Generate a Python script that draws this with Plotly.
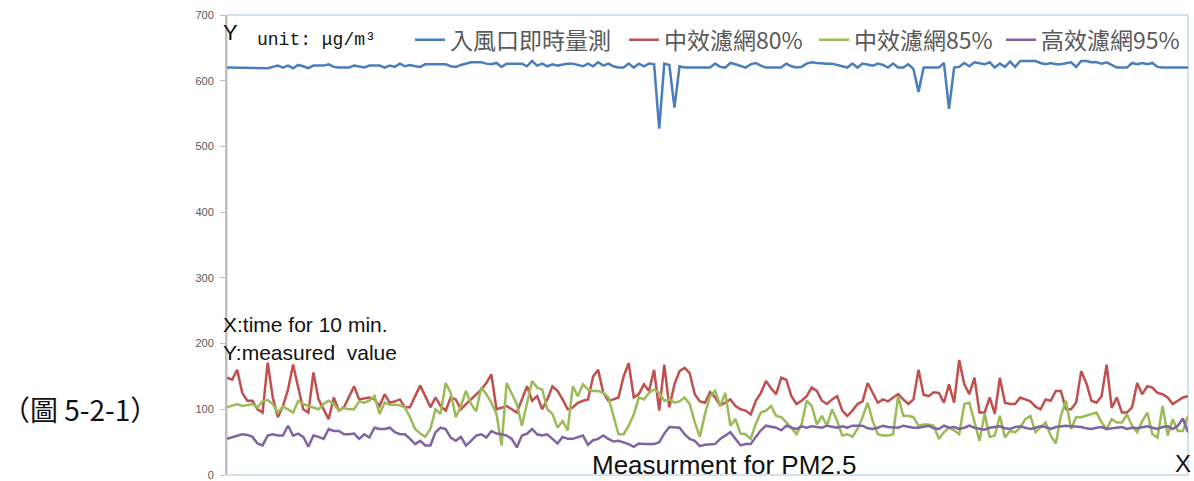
import plotly.graph_objects as go

# PM2.5 readings, one sample per step (10-minute series)
inlet = [
    620, 620, 620, 620, 620, 620, 620, 620, 619, 621, 623, 620, 623, 619, 624, 622, 619, 623, 623, 623,
    625, 621, 620, 620, 620, 623, 622, 620, 623, 623, 623, 620, 623, 621, 626, 622, 624, 622, 621, 625,
    625, 625, 626, 625, 622, 621, 624, 626, 628, 628, 628, 626, 625, 627, 621, 626, 626, 626, 626, 622,
    630, 623, 626, 622, 625, 623, 625, 626, 626, 624, 622, 626, 622, 628, 623, 626, 622, 620, 620, 626,
    620, 626, 622, 626, 625, 527, 626, 624, 559, 622, 620, 620, 620, 620, 621, 620, 626, 621, 620, 627,
    625, 622, 620, 625, 627, 623, 620, 620, 620, 620, 626, 622, 620, 621, 626, 628, 627, 626, 626, 626,
    624, 622, 620, 626, 620, 626, 624, 623, 626, 624, 620, 626, 620, 620, 625, 618, 583, 620, 620, 620,
    620, 627, 557, 620, 621, 627, 622, 628, 627, 625, 628, 620, 626, 621, 629, 621, 630, 630, 630, 630,
    627, 625, 627, 625, 625, 626, 628, 621, 630, 630, 628, 628, 626, 628, 624, 620, 620, 620, 627, 625,
    627, 625, 627, 621, 620, 620, 620, 620, 620, 620,
]

filter_80 = [
    148, 145, 160, 125, 113, 113, 100, 95, 171, 118, 88, 105, 130, 168, 133, 100, 95, 156, 115, 100,
    85, 118, 98, 103, 118, 135, 115, 117, 118, 115, 105, 123, 110, 112, 115, 103, 103, 120, 136, 120,
    103, 118, 105, 98, 118, 115, 100,
    108, 115, 123, 130, 140, 153, 100, 103, 105, 100, 95, 115, 135, 113, 120, 100, 115, 135, 128, 115,
    100, 103, 110, 113, 115, 150, 160, 125, 113, 115, 118, 150, 170, 118, 123, 138, 128, 160, 98, 168,
    103, 138, 158, 163, 155, 123, 112, 110,
    126, 118, 106, 110, 115, 105, 100, 98, 92, 113, 125, 143, 132, 123, 148, 145, 120, 108, 113, 120,
    133, 128, 113, 108, 115, 120, 98, 90, 98, 108, 112, 140, 125, 110, 115, 112, 118, 123, 115, 108,
    115, 160, 122, 120, 126, 125, 110,
    138, 110, 175, 138, 123, 148, 95, 95, 118, 93, 148, 110, 108, 108, 118, 115, 112, 104, 100, 115,
    113, 128, 128, 100, 100, 110, 158, 140, 113, 110, 120, 168, 102, 118, 95, 95, 103, 140, 123, 135,
    133, 125, 123, 118, 108, 113, 118, 120,
]

filter_85 = [
    103, 105, 108, 105, 106, 108, 103, 112, 114, 108, 95, 104, 100, 95, 113, 108, 105, 102, 100, 108,
    113, 108, 98, 102, 100, 100, 112, 110, 113, 120, 93, 110, 107, 107, 106, 103, 88, 70, 63, 58,
    70, 100, 93, 140, 125, 88, 105,
    128, 108, 97, 133, 123, 110, 93, 45, 140, 125, 108, 75, 108, 143, 133, 130, 100, 93, 72, 82,
    68, 135, 120, 138, 130, 128, 128, 125, 118, 88, 62, 62, 75, 92, 118, 115, 125, 130, 125, 113,
    115, 110, 112, 118, 108, 80, 58, 93,
    120, 128, 105, 125, 75, 85, 63, 62, 55, 78, 95, 98, 105, 90, 88, 80, 72, 62, 77, 113,
    105, 77, 90, 75, 100, 82, 60, 62, 58, 70, 88, 110, 82, 62, 60, 60, 62, 120, 90, 90,
    88, 75, 77, 77, 75, 55, 65,
    72, 68, 62, 108, 110, 80, 52, 93, 58, 60, 90, 57, 67, 65, 72, 85, 90, 65, 72, 80,
    60, 48, 90, 113, 70, 88, 88, 90, 93, 95, 80, 70, 85, 80, 80, 92, 75, 65, 82, 95,
    62, 57, 105, 60, 85, 67, 67, 90,
]

filter_95 = [
    55, 57, 60, 62, 61, 58, 48, 45, 60, 62, 60, 60, 75, 60, 63, 58, 43, 60, 58, 55,
    70, 67, 67, 62, 62, 63, 55, 62, 57, 72, 70, 70, 72, 65, 62, 62, 55, 47, 52, 45,
    45, 65, 72, 70, 57, 52, 58,
    45, 52, 60, 62, 57, 67, 63, 62, 60, 55, 42, 60, 63, 70, 62, 60, 62, 55, 48, 58,
    55, 55, 58, 60, 46, 53, 55, 60, 55, 51, 52, 50, 47, 43, 48, 47, 47, 47, 50, 63,
    73, 72, 72, 62, 55, 52, 44, 46,
    47, 47, 55, 60, 65, 55, 45, 47, 47, 58, 68, 75, 73, 72, 68, 75, 72, 70, 74, 72,
    74, 73, 72, 75, 73, 72, 74, 72, 75, 75, 75, 71, 70, 72, 75, 73, 72, 72, 75, 73,
    72, 72, 73, 75, 71, 70, 75,
    72, 73, 70, 72, 75, 72, 70, 69, 72, 73, 74, 71, 70, 73, 74, 72, 70, 72, 74, 73,
    70, 73, 74, 75, 74, 74, 73, 71, 70, 72, 73, 70, 71, 72, 73, 70, 72, 71, 73, 74,
    72, 70, 73, 74, 70, 75, 86, 65,
]

series_names = ["入風口即時量測", "中效濾網80%", "中效濾網85%", "高效濾網95%"]
series_colors = ["#4a7ebb", "#c0504d", "#9bbb59", "#8064a2"]
series_values = [inlet, filter_80, filter_85, filter_95]
y_ticks = [0, 100, 200, 300, 400, 500, 600, 700]

# legend anchor positions (paper x) for each series entry
legend_x = [0.1904, 0.4131, 0.6108, 0.8054]

fig = go.Figure()
for k, (name, color, vals) in enumerate(zip(series_names, series_colors, series_values)):
    fig.add_trace(go.Scatter(
        x=list(range(len(vals))), y=vals, mode="lines", name=name,
        line=dict(color=color, width=2.5),
        legend="legend" if k == 0 else f"legend{k + 1}",
    ))

legend_font = dict(family="Noto Sans CJK TC, sans-serif", size=23, color="#595959")
legend_common = dict(orientation="h", xanchor="left", yanchor="middle", y=0.946,
                     bgcolor="rgba(0,0,0,0)", borderwidth=0, font=legend_font)

n = len(inlet)
fig.update_layout(
    width=1194, height=481,
    margin=dict(l=227, r=6, t=15, b=6, autoexpand=False),
    paper_bgcolor="white", plot_bgcolor="white",
    showlegend=True,
    legend=dict(x=legend_x[0], **legend_common),
    legend2=dict(x=legend_x[1], **legend_common),
    legend3=dict(x=legend_x[2], **legend_common),
    legend4=dict(x=legend_x[3], **legend_common),
    xaxis=dict(range=[0, n - 1], showticklabels=False, ticks="", showgrid=False,
               zeroline=False, showline=False, automargin=False),
    yaxis=dict(range=[0, 700], tickvals=y_ticks, ticks="outside", ticklen=5,
               tickcolor="#bfbfbf", showline=True, linecolor="#bfbfbf", linewidth=2,
               showgrid=False, zeroline=False, ticklabeloverflow="allow",
               ticklabelstandoff=4, automargin=False,
               tickfont=dict(family="Liberation Sans, Arial, sans-serif", size=11, color="#595959")),
)

# frame around the plotting area
fig.add_shape(type="rect", xref="paper", yref="paper", x0=0, x1=1, y0=0, y1=1,
              line=dict(color="#a9c4e0", width=1), layer="below")

sans = "Liberation Sans, Arial, sans-serif"
notes = [
    dict(text="（圖 5-2-1）", x=-0.2362, y=0.144, xanchor="left",
         font=dict(family="Noto Sans CJK TC, serif", size=28, color="#111111")),
    dict(text="Y", x=-0.006, y=0.963, xanchor="left",
         font=dict(family=sans, size=22, color="#111111")),
    dict(text="unit: μg/m³", x=0.029, y=0.946, xanchor="left",
         font=dict(family="Liberation Mono, monospace", size=18, color="#111111")),
    dict(text="X:time for 10 min.", x=-0.006, y=0.328, xanchor="left",
         font=dict(family=sans, size=21, color="#111111")),
    dict(text="Y:measured\u00a0 value", x=-0.006, y=0.266, xanchor="left",
         font=dict(family=sans, size=21, color="#111111")),
    dict(text="Measurment for PM2.5", x=0.517, y=0.021, xanchor="center",
         font=dict(family=sans, size=26, color="#111111")),
    dict(text="X", x=0.995, y=0.024, xanchor="center",
         font=dict(family=sans, size=24, color="#111111")),
]
for a in notes:
    fig.add_annotation(xref="paper", yref="paper", showarrow=False, yanchor="middle", **a)

fig.write_html("out.html")
